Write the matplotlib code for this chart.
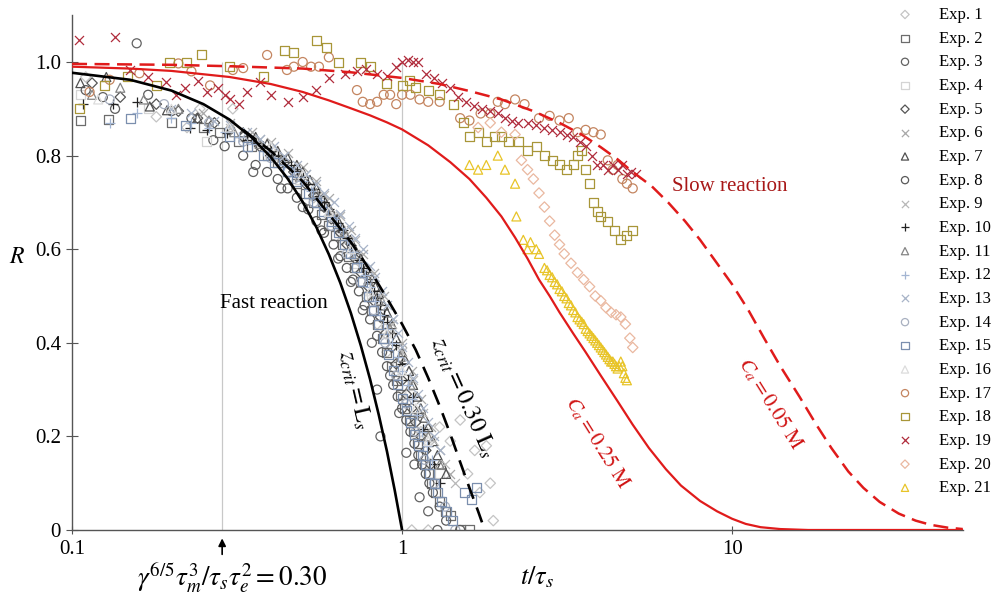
import matplotlib
matplotlib.use("Agg")
import matplotlib.pyplot as plt

plt.rcParams['font.family'] = ['Liberation Serif', 'DejaVu Serif']
plt.rcParams['mathtext.fontset'] = 'stix'

# ---- model curves ----
fast_solid_t = [0.1, 0.15, 0.2, 0.25, 0.3, 0.35, 0.4, 0.45, 0.5, 0.55, 0.6, 0.65, 0.7, 0.75, 0.8, 0.85, 0.9, 0.95, 1.0]
fast_solid_R = [0.977, 0.962, 0.939, 0.910, 0.877, 0.839, 0.797, 0.751, 0.701, 0.647, 0.589, 0.528, 0.463, 0.394, 0.322, 0.246, 0.168, 0.085, 0.0]

fast_dash_t = [0.33, 0.4, 0.5, 0.6, 0.7, 0.8, 0.9, 1.0, 1.1, 1.2, 1.3, 1.4, 1.5, 1.6, 1.7, 1.78]
fast_dash_R = [0.855, 0.81, 0.745, 0.675, 0.615, 0.555, 0.495, 0.44, 0.385, 0.325, 0.265, 0.205, 0.145, 0.09, 0.04, 0.0]

slow_solid_t = [0.1, 0.15, 0.2, 0.3, 0.4, 0.5, 0.6, 0.7, 0.8, 0.9, 1.0, 1.2, 1.4, 1.6, 1.8, 2.0, 2.2, 2.4, 2.6, 2.8,
                3.0, 3.3, 3.6, 4.0, 4.5, 5.0, 5.6, 6.3, 7.0, 8.0, 9.0, 10.0, 11.0, 12.2, 14, 17, 25, 50]
slow_solid_R = [0.990, 0.986, 0.981, 0.968, 0.953, 0.936, 0.918, 0.901, 0.886, 0.871, 0.856, 0.822, 0.786, 0.75, 0.71,
                0.67, 0.625, 0.58, 0.535, 0.50, 0.465, 0.42, 0.38, 0.33, 0.275, 0.225, 0.175, 0.13, 0.095, 0.062,
                0.04, 0.024, 0.013, 0.006, 0.002, 0.0, 0.0, 0.0]

slow_dash_t = [0.1, 0.2, 0.3, 0.5, 0.7, 1.0, 1.3, 1.6, 2.0, 2.5, 3.0, 3.5, 4.0, 4.5, 5.0, 5.7, 6.4, 7.2, 8.0, 9.0,
               10, 11.2, 12.5, 14, 16, 18, 20, 22.5, 25, 28, 32, 36, 40, 45, 50]
slow_dash_R = [0.996, 0.994, 0.991, 0.986, 0.978, 0.966, 0.953, 0.938, 0.92, 0.895, 0.87, 0.845, 0.818, 0.792, 0.765,
               0.735, 0.70, 0.66, 0.62, 0.57, 0.525, 0.47, 0.41, 0.35, 0.285, 0.225, 0.175, 0.125, 0.09, 0.06,
               0.035, 0.02, 0.011, 0.005, 0.002]

# ---- experiments ----
exp1_t = [0.11, 0.18, 0.223, 0.244, 0.307, 0.36, 0.42, 0.48, 0.54, 0.6, 0.66, 0.72, 0.78, 0.84, 0.9, 0.96, 1.02, 1.08, 1.14, 1.2, 1.3, 1.4, 1.5, 1.58, 1.66, 1.72, 1.8, 1.85, 1.89, 1.07, 1.2]
exp1_R = [0.968, 0.883, 0.86, 0.90, 0.90, 0.83, 0.80, 0.76, 0.71, 0.67, 0.62, 0.56, 0.50, 0.44, 0.38, 0.33, 0.28, 0.24, 0.21, 0.20, 0.22, 0.19, 0.235, 0.12, 0.17, 0.08, 0.18, 0.10, 0.02, 0.0, 0.0]
exp2_t = [0.106, 0.129, 0.2, 0.25, 0.28, 0.32, 0.35, 0.39, 0.42, 0.45, 0.48, 0.51, 0.54, 0.57, 0.6, 0.63, 0.66, 0.69, 0.72, 0.75, 0.78, 0.81, 0.84, 0.87, 0.9, 0.93, 0.96, 0.99, 1.02, 1.05, 1.08, 1.11, 1.14, 1.17, 1.2, 1.23, 1.26, 1.3, 1.35, 1.4, 1.5, 1.6]
exp2_R = [0.875, 0.878, 0.87, 0.86, 0.85, 0.83, 0.82, 0.80, 0.785, 0.765, 0.74, 0.72, 0.70, 0.675, 0.65, 0.63, 0.61, 0.585, 0.56, 0.53, 0.50, 0.47, 0.44, 0.41, 0.38, 0.35, 0.32, 0.29, 0.26, 0.235, 0.21, 0.185, 0.16, 0.14, 0.12, 0.10, 0.08, 0.06, 0.04, 0.03, 0.0, 0.0]
exp3_t = [0.124, 0.157, 0.2, 0.268, 0.354, 0.43, 0.5, 0.57, 0.64, 0.7, 0.76, 0.81, 0.84, 0.86, 0.92, 0.98, 1.03, 1.09, 1.13, 1.2, 1.28]
exp3_R = [0.925, 1.04, 0.895, 0.833, 0.765, 0.73, 0.69, 0.64, 0.58, 0.53, 0.47, 0.40, 0.30, 0.20, 0.33, 0.25, 0.165, 0.14, 0.07, 0.04, 0.0]
exp4_t = [0.106, 0.17, 0.256, 0.33, 0.41, 0.49, 0.57, 0.65, 0.73, 0.81, 0.89, 0.97, 1.05, 1.15, 1.3]
exp4_R = [0.93, 0.90, 0.83, 0.84, 0.80, 0.75, 0.70, 0.64, 0.57, 0.50, 0.43, 0.36, 0.29, 0.21, 0.12]
exp5_t = [0.115, 0.14, 0.18, 0.21, 0.24, 0.27, 0.3, 0.33, 0.37, 0.4, 0.44, 0.47, 0.51, 0.54, 0.58, 0.61, 0.65, 0.68, 0.72, 0.75, 0.79, 0.82, 0.86, 0.89, 0.93, 0.96, 1.0, 1.03, 1.07, 1.1, 1.14, 1.18, 1.22]
exp5_R = [0.955, 0.925, 0.91, 0.895, 0.88, 0.87, 0.855, 0.84, 0.82, 0.80, 0.785, 0.765, 0.74, 0.715, 0.69, 0.665, 0.635, 0.61, 0.58, 0.55, 0.52, 0.49, 0.455, 0.42, 0.39, 0.355, 0.32, 0.29, 0.26, 0.23, 0.20, 0.17, 0.14]
exp6_t = [0.25, 0.3, 0.35, 0.4, 0.45, 0.5, 0.55, 0.6, 0.65, 0.7, 0.76, 0.82, 0.88, 0.94, 1.0, 1.07, 1.14, 1.22, 1.3, 1.4]
exp6_R = [0.89, 0.87, 0.85, 0.83, 0.805, 0.775, 0.745, 0.71, 0.675, 0.64, 0.59, 0.55, 0.50, 0.45, 0.40, 0.34, 0.28, 0.22, 0.17, 0.12]
exp7_t = [0.106, 0.127, 0.172, 0.194, 0.24, 0.3, 0.33, 0.36, 0.39, 0.42, 0.45, 0.48, 0.5, 0.526, 0.55, 0.576, 0.6, 0.636, 0.66, 0.697, 0.72, 0.75, 0.78, 0.8, 0.83, 0.85, 0.88, 0.9, 0.93, 0.96, 1.0, 1.02, 1.05, 1.08, 1.11, 1.14, 1.17, 1.2, 1.24, 1.28, 1.32, 1.36]
exp7_R = [0.955, 0.968, 0.905, 0.897, 0.88, 0.86, 0.85, 0.84, 0.825, 0.81, 0.795, 0.78, 0.765, 0.748, 0.73, 0.71, 0.69, 0.665, 0.645, 0.62, 0.60, 0.58, 0.56, 0.545, 0.52, 0.505, 0.48, 0.465, 0.44, 0.41, 0.38, 0.365, 0.34, 0.31, 0.285, 0.26, 0.24, 0.22, 0.19, 0.16, 0.14, 0.12]
exp8_t = [0.11, 0.135, 0.17, 0.23, 0.29, 0.33, 0.36, 0.39, 0.42, 0.45, 0.48, 0.52, 0.55, 0.58, 0.62, 0.65, 0.68, 0.71, 0.74, 0.77, 0.8, 0.84, 0.87, 0.9, 0.94, 0.97, 1.0, 1.03, 1.06, 1.09, 1.12, 1.15, 1.18, 1.21, 1.24, 1.3, 1.36, 1.5]
exp8_R = [0.94, 0.90, 0.93, 0.88, 0.82, 0.80, 0.78, 0.765, 0.75, 0.73, 0.71, 0.685, 0.66, 0.635, 0.61, 0.585, 0.56, 0.535, 0.51, 0.48, 0.45, 0.415, 0.38, 0.35, 0.31, 0.285, 0.26, 0.235, 0.21, 0.185, 0.16, 0.14, 0.12, 0.10, 0.08, 0.05, 0.02, 0.0]
exp9_t = [0.3, 0.37, 0.44, 0.51, 0.58, 0.65, 0.72, 0.79, 0.86, 0.93, 1.0, 1.08, 1.16, 1.25, 1.35, 1.45]
exp9_R = [0.86, 0.835, 0.80, 0.76, 0.715, 0.67, 0.62, 0.56, 0.50, 0.44, 0.38, 0.32, 0.25, 0.19, 0.14, 0.10]
exp10_t = [0.108, 0.133, 0.157, 0.228, 0.256, 0.295, 0.339, 0.36, 0.38, 0.40, 0.42, 0.44, 0.46, 0.48, 0.5, 0.52, 0.54, 0.56, 0.58, 0.6, 0.62, 0.64, 0.66, 0.68, 0.70, 0.72, 0.74, 0.76, 0.78, 0.8, 0.82, 0.84, 0.86, 0.88, 0.90, 0.93, 0.96, 1.0, 1.04, 1.08, 1.12, 1.16, 1.2, 1.25, 1.3]
exp10_R = [0.91, 0.91, 0.915, 0.86, 0.855, 0.848, 0.833, 0.826, 0.82, 0.81, 0.80, 0.79, 0.78, 0.768, 0.755, 0.74, 0.728, 0.714, 0.70, 0.685, 0.67, 0.655, 0.64, 0.625, 0.61, 0.595, 0.578, 0.56, 0.545, 0.53, 0.51, 0.495, 0.48, 0.46, 0.445, 0.42, 0.395, 0.355, 0.32, 0.285, 0.25, 0.215, 0.18, 0.14, 0.10]
exp11_t = [0.115, 0.14, 0.165, 0.21, 0.26, 0.31, 0.37, 0.43, 0.49, 0.55, 0.61, 0.67, 0.73, 0.79, 0.85, 0.92, 0.99, 1.06, 1.13, 1.2, 1.3]
exp11_R = [0.93, 0.945, 0.92, 0.90, 0.875, 0.85, 0.825, 0.79, 0.755, 0.72, 0.68, 0.635, 0.59, 0.535, 0.49, 0.43, 0.37, 0.31, 0.25, 0.20, 0.14]
exp12_t = [0.13, 0.157, 0.2, 0.23, 0.26, 0.29, 0.32, 0.35, 0.38, 0.41, 0.44, 0.47, 0.5, 0.53, 0.56, 0.59, 0.62, 0.65, 0.68, 0.71, 0.74, 0.77, 0.8, 0.83, 0.86, 0.9, 0.93, 0.97, 1.0, 1.04, 1.07, 1.11, 1.15, 1.19, 1.23]
exp12_R = [0.87, 0.89, 0.88, 0.87, 0.86, 0.85, 0.84, 0.825, 0.81, 0.795, 0.78, 0.765, 0.745, 0.725, 0.705, 0.685, 0.665, 0.645, 0.62, 0.595, 0.57, 0.545, 0.52, 0.49, 0.46, 0.43, 0.40, 0.37, 0.34, 0.31, 0.28, 0.245, 0.21, 0.18, 0.15]
exp13_t = [0.2, 0.23, 0.27, 0.3, 0.34, 0.37, 0.41, 0.44, 0.48, 0.51, 0.55, 0.58, 0.62, 0.65, 0.69, 0.72, 0.76, 0.8, 0.83, 0.87, 0.9, 0.94, 0.97, 1.0, 1.04, 1.08, 1.12, 1.16, 1.2, 1.25, 1.3]
exp13_R = [0.90, 0.89, 0.875, 0.865, 0.85, 0.835, 0.82, 0.80, 0.78, 0.76, 0.74, 0.72, 0.70, 0.675, 0.65, 0.625, 0.60, 0.565, 0.54, 0.51, 0.48, 0.45, 0.42, 0.39, 0.36, 0.325, 0.29, 0.26, 0.23, 0.20, 0.17]
exp14_t = [0.13, 0.19, 0.26, 0.33, 0.4, 0.47, 0.54, 0.61, 0.68, 0.75, 0.82, 0.89, 0.96, 1.03, 1.1, 1.17, 1.25, 1.35, 1.45]
exp14_R = [0.92, 0.91, 0.87, 0.83, 0.795, 0.75, 0.70, 0.65, 0.59, 0.53, 0.47, 0.40, 0.33, 0.27, 0.21, 0.15, 0.10, 0.05, 0.0]
exp15_t = [0.15, 0.22, 0.3, 0.34, 0.38, 0.41, 0.45, 0.48, 0.52, 0.55, 0.58, 0.61, 0.64, 0.67, 0.7, 0.73, 0.76, 0.79, 0.82, 0.85, 0.88, 0.91, 0.94, 0.97, 1.0, 1.03, 1.06, 1.09, 1.12, 1.15, 1.18, 1.21, 1.25, 1.28, 1.32, 1.36, 1.42, 1.55, 1.62, 1.68]
exp15_R = [0.88, 0.865, 0.84, 0.82, 0.80, 0.785, 0.765, 0.745, 0.72, 0.70, 0.68, 0.66, 0.635, 0.61, 0.59, 0.56, 0.53, 0.50, 0.47, 0.44, 0.41, 0.375, 0.34, 0.31, 0.28, 0.255, 0.23, 0.205, 0.18, 0.16, 0.14, 0.12, 0.10, 0.08, 0.06, 0.04, 0.02, 0.08, 0.065, 0.09]
exp16_t = [0.12, 0.2, 0.3, 0.4, 0.5, 0.6, 0.7, 0.8, 0.9, 1.0, 1.1, 1.2]
exp16_R = [0.92, 0.90, 0.86, 0.82, 0.76, 0.68, 0.60, 0.51, 0.42, 0.34, 0.26, 0.19]
exp17_t = [0.113, 0.13, 0.16, 0.21, 0.23, 0.262, 0.307, 0.33, 0.39, 0.448, 0.47, 0.5, 0.53, 0.56, 0.6, 0.73, 0.76, 0.8, 0.84, 0.88, 0.92, 0.96, 1.0, 1.06, 1.13, 1.2, 1.3, 1.5, 1.6, 1.73, 1.85, 1.95, 2.05, 2.2, 2.35, 2.6, 2.8, 3.0, 3.2, 3.4, 3.6, 3.8, 4.0, 4.2, 4.35, 4.5, 4.65, 4.8, 5.0]
exp17_R = [0.936, 0.962, 0.976, 0.997, 0.98, 0.95, 0.983, 0.987, 1.015, 0.983, 0.99, 1.0, 0.99, 0.99, 1.01, 0.94, 0.915, 0.91, 0.915, 0.93, 0.93, 0.91, 0.93, 0.93, 0.92, 0.915, 0.915, 0.88, 0.875, 0.89, 0.89, 0.915, 0.91, 0.92, 0.91, 0.88, 0.885, 0.875, 0.88, 0.85, 0.855, 0.85, 0.845, 0.79, 0.77, 0.78, 0.75, 0.74, 0.73]
exp18_t = [0.105, 0.125, 0.147, 0.18, 0.197, 0.223, 0.247, 0.3, 0.38, 0.44, 0.47, 0.55, 0.59, 0.64, 0.75, 0.8, 0.9, 1.0, 1.05, 1.1, 1.2, 1.3, 1.43, 1.53, 1.6, 1.7, 1.8, 1.9, 2.0, 2.1, 2.25, 2.4, 2.55, 2.7, 2.85, 3.0, 3.15, 3.3, 3.4, 3.5, 3.6, 3.7, 3.8, 3.9, 4.0, 4.2, 4.4, 4.6, 4.8, 5.0]
exp18_R = [0.90, 0.95, 0.97, 0.95, 1.0, 1.0, 1.015, 0.99, 0.97, 1.025, 1.02, 1.047, 1.03, 1.0, 1.0, 0.99, 0.955, 0.95, 0.96, 0.945, 0.94, 0.93, 0.91, 0.87, 0.84, 0.85, 0.83, 0.84, 0.84, 0.83, 0.83, 0.81, 0.82, 0.80, 0.79, 0.78, 0.77, 0.78, 0.80, 0.81, 0.77, 0.74, 0.70, 0.68, 0.67, 0.66, 0.64, 0.62, 0.63, 0.64]
exp19_t = [0.105, 0.135, 0.15, 0.17, 0.193, 0.207, 0.22, 0.24, 0.257, 0.277, 0.29, 0.3, 0.32, 0.34, 0.37, 0.4, 0.45, 0.5, 0.55, 0.6, 0.67, 0.73, 0.78, 0.84, 0.9, 0.96, 1.0, 1.04, 1.08, 1.12, 1.18, 1.25, 1.32, 1.4, 1.48, 1.56, 1.65, 1.75, 1.85, 1.95, 2.05, 2.15, 2.25, 2.4, 2.55, 2.7, 2.85, 3.0, 3.15, 3.3, 3.45, 3.6, 3.75, 3.9, 4.05, 4.2, 4.35, 4.5, 4.65, 4.8, 4.95, 5.1]
exp19_R = [1.047, 1.053, 0.983, 0.968, 0.957, 0.93, 0.944, 0.96, 0.936, 0.945, 0.93, 0.92, 0.91, 0.935, 0.957, 0.93, 0.915, 0.925, 0.94, 0.965, 0.975, 0.98, 0.985, 0.975, 0.97, 0.99, 1.0, 1.005, 1.0, 1.0, 0.975, 0.965, 0.955, 0.945, 0.925, 0.915, 0.905, 0.90, 0.895, 0.89, 0.88, 0.875, 0.87, 0.87, 0.865, 0.86, 0.855, 0.85, 0.845, 0.84, 0.83, 0.82, 0.80, 0.78, 0.78, 0.77, 0.78, 0.77, 0.78, 0.76, 0.765, 0.76]
exp20_t = [1.7, 1.85, 2.0, 2.2, 2.3, 2.4, 2.5, 2.6, 2.7, 2.8, 2.9, 3.0, 3.1, 3.25, 3.4, 3.55, 3.7, 3.85, 4.0, 4.15, 4.3, 4.45, 4.6, 4.75, 4.9, 5.0]
exp20_R = [0.86, 0.87, 0.85, 0.845, 0.79, 0.77, 0.75, 0.72, 0.69, 0.66, 0.63, 0.61, 0.59, 0.57, 0.55, 0.535, 0.52, 0.50, 0.49, 0.475, 0.465, 0.46, 0.455, 0.44, 0.41, 0.39]
exp21_t = [1.6, 1.7, 1.8, 1.95, 2.05, 2.2, 2.22, 2.33, 2.4, 2.45, 2.55, 2.6, 2.7, 2.75, 2.8, 2.85, 2.9, 2.95, 3.0, 3.05,
           3.1, 3.15, 3.2, 3.25, 3.3, 3.35, 3.4, 3.45, 3.5, 3.55, 3.6, 3.65, 3.7, 3.75, 3.8, 3.85, 3.9, 3.95, 4.0, 4.05,
           4.1, 4.15, 4.2, 4.25, 4.3, 4.35, 4.4, 4.45, 4.5, 4.55, 4.6, 4.65, 4.7, 4.75, 4.8]
exp21_R = [0.78, 0.77, 0.78, 0.80, 0.77, 0.74, 0.67, 0.62, 0.60, 0.615, 0.60, 0.59, 0.56, 0.555, 0.545, 0.54, 0.53, 0.525, 0.515, 0.51,
           0.50, 0.495, 0.485, 0.48, 0.47, 0.465, 0.455, 0.45, 0.445, 0.44, 0.43, 0.425, 0.42, 0.415, 0.41, 0.405, 0.40, 0.395, 0.39, 0.385,
           0.38, 0.375, 0.37, 0.365, 0.36, 0.36, 0.355, 0.35, 0.345, 0.35, 0.36, 0.35, 0.335, 0.325, 0.32]

exp_t = [exp1_t, exp2_t, exp3_t, exp4_t, exp5_t, exp6_t, exp7_t, exp8_t, exp9_t, exp10_t, exp11_t,
         exp12_t, exp13_t, exp14_t, exp15_t, exp16_t, exp17_t, exp18_t, exp19_t, exp20_t, exp21_t]
exp_R = [exp1_R, exp2_R, exp3_R, exp4_R, exp5_R, exp6_R, exp7_R, exp8_R, exp9_R, exp10_R, exp11_R,
         exp12_R, exp13_R, exp14_R, exp15_R, exp16_R, exp17_R, exp18_R, exp19_R, exp20_R, exp21_R]
exp_markers = ['D', 's', 'o', 's', 'D', 'x', '^', 'o', 'x', '+', '^',
               '+', 'x', 'o', 's', '^', 'o', 's', 'x', 'D', '^']
exp_colors = ['#c4c4c4', '#6c6c6c', '#626262', '#d4d4d4', '#555555', '#a8a8a8', '#505050', '#5a5a5a',
              '#b8b8b8', '#222222', '#858585', '#a3b5d2', '#a8b4c8', '#a8b0c0', '#7b8fae', '#dcdcdc',
              '#c48560', '#a89638', '#b02c3c', '#eab8a0', '#e8c428']

fig = plt.figure(figsize=(9.91, 5.99), dpi=100)
ax = fig.add_axes([0.0727, 0.1152, 0.8988, 0.8594])

handles = []
for i in range(21):
    m = exp_markers[i]
    c = exp_colors[i]
    sz = 28 if m == 'D' else 42
    if m in ('x', '+'):
        h = ax.scatter(exp_t[i], exp_R[i], marker=m, s=sz, color=c, linewidths=0.9, zorder=2,
                       label=f'Exp. {i + 1}')
    else:
        h = ax.scatter(exp_t[i], exp_R[i], marker=m, s=sz, facecolors='none', edgecolors=c,
                       linewidths=0.9, zorder=2, label=f'Exp. {i + 1}')
    handles.append(h)

# model curves
ax.plot(fast_solid_t, fast_solid_R, color='black', lw=1.9, zorder=4)
ax.plot(fast_dash_t, fast_dash_R, color='black', lw=1.9, dashes=(6, 3.5), zorder=4)
ax.plot(slow_solid_t, slow_solid_R, color='#e01b1b', lw=1.6, zorder=4)
ax.plot(slow_dash_t, slow_dash_R, color='#e01b1b', lw=1.8, dashes=(6, 3), zorder=4)

# vertical reference lines
t_mark = 0.285
ax.vlines([t_mark, 1.0], 0, 1.0, color='#c8c8c8', lw=0.9, zorder=0)

ax.set_xscale('log')
ax.set_xlim(0.1, 50)
ax.set_ylim(0, 1.1)
ax.set_xticks([0.1, 1, 10])
ax.set_xticklabels(['0.1', '1', '10'])
ax.xaxis.set_minor_locator(matplotlib.ticker.NullLocator())
ax.set_yticks([0, 0.2, 0.4, 0.6, 0.8, 1.0])
ax.set_yticklabels(['0', '0.2', '0.4', '0.6', '0.8', '1.0'])
ax.tick_params(axis='both', labelsize=15, color='#555555')
ax.tick_params(axis='y', direction='inout', length=8, pad=4)
ax.tick_params(axis='x', direction='inout', length=6, pad=4)

for s in ['top', 'right']:
    ax.spines[s].set_visible(False)
for s in ['left', 'bottom']:
    ax.spines[s].set_color('#555555')
    ax.spines[s].set_linewidth(1.0)

# labels
ax.text(-0.062, 0.53, r'$R$', transform=ax.transAxes, fontsize=17, ha='center', va='center')
fig.text(537 / 991, 1 - 577 / 599, r'$t/\tau_s$', fontsize=19, ha='center', va='center')
fig.text(232 / 991, 1 - 578 / 599, r'$\gamma^{6/5}\tau_m^3/\tau_s\tau_e^2 = 0.30$',
         fontsize=19.5, ha='center', va='center')
ax.annotate('', xy=(t_mark, -0.012), xytext=(t_mark, -0.058), xycoords='data',
            arrowprops=dict(arrowstyle='-|>', color='black', lw=1.2, mutation_scale=11),
            annotation_clip=False)

# annotations
ax.text(0.28, 0.485, 'Fast reaction', fontsize=15, ha='left', va='center')
ax.text(6.58, 0.733, 'Slow reaction', fontsize=15, ha='left', va='center', color='#a81818')
ax.text(0.72, 0.30, r'$z_{crit} = \mathrm{L}_s$', fontsize=17.5, rotation=-77,
        ha='center', va='center')
ax.text(1.53, 0.284, r'$z_{crit} = 0.30\ \mathrm{L}_s$', fontsize=17.5, rotation=-66,
        ha='center', va='center')
ax.text(3.9, 0.186, r'$C_a = 0.25\ \mathrm{M}$', fontsize=15, rotation=-58,
        ha='center', va='center', color='#d01414')
ax.text(13.1, 0.271, r'$C_a = 0.05\ \mathrm{M}$', fontsize=15, rotation=-58,
        ha='center', va='center', color='#d01414')

fig.legend(handles=handles, loc='upper left', bbox_to_anchor=(890 / 991, 0.9997), frameon=False,
           fontsize=12, labelspacing=0.46, handlelength=1.0, handletextpad=1.55, borderaxespad=0,
           markerscale=0.8)

fig.savefig('out.png', dpi=100)
